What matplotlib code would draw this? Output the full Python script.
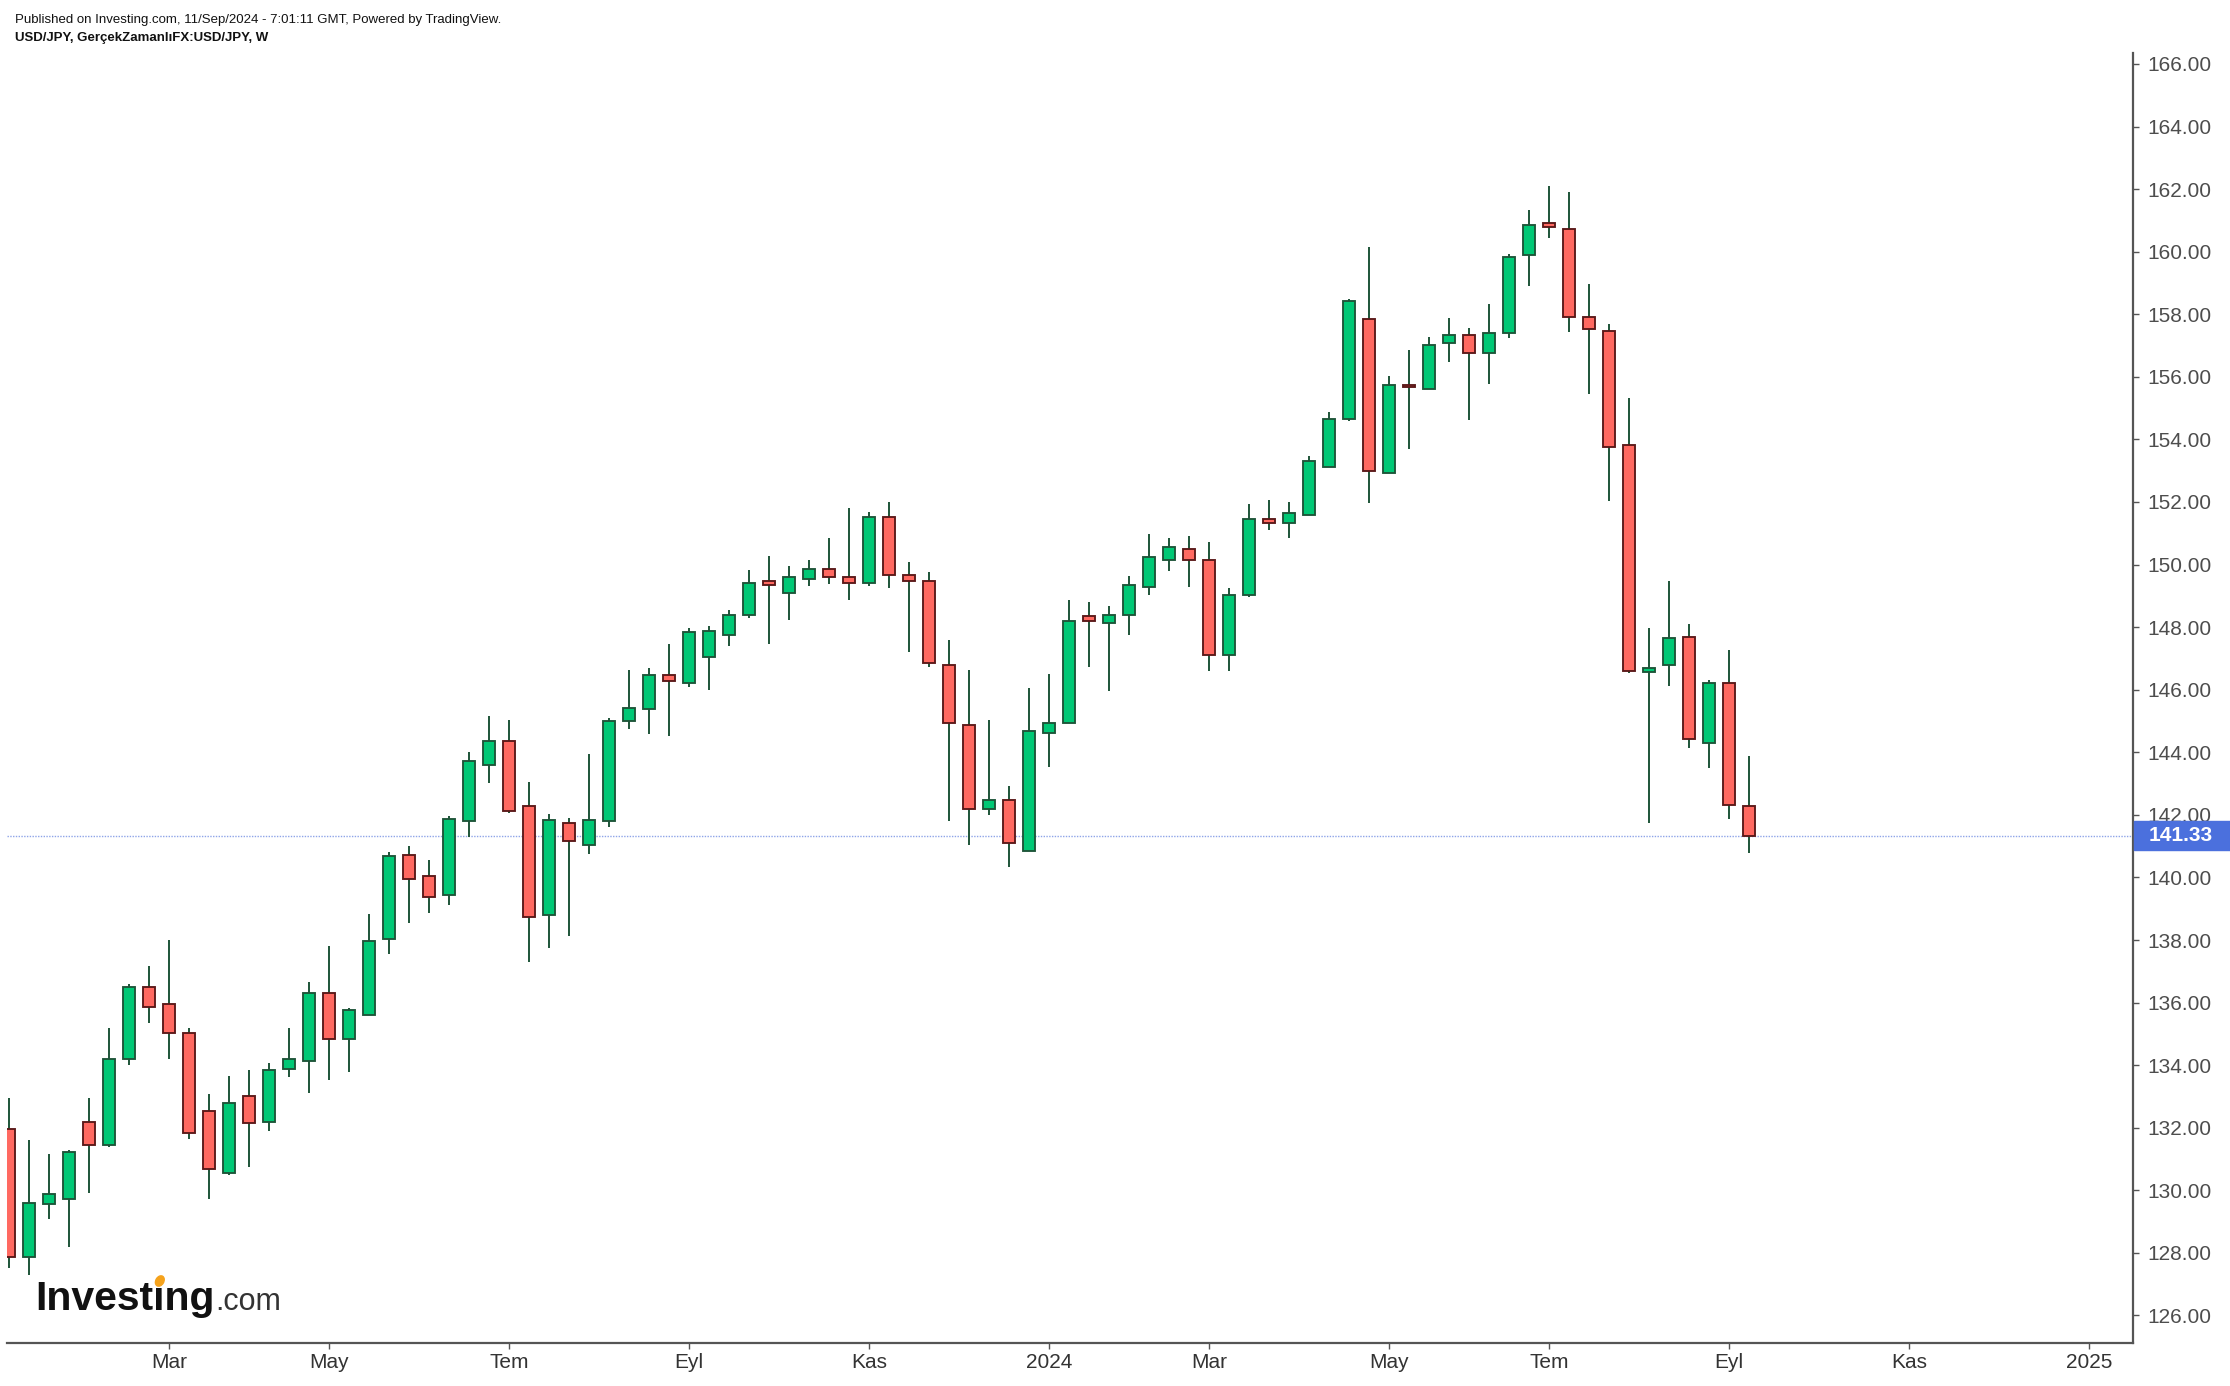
import numpy as np
import pandas as pd
import matplotlib
matplotlib.use('Agg')
import matplotlib.pyplot as plt
import matplotlib.dates as mdates
import matplotlib.transforms as mtransforms
from matplotlib.patches import Rectangle, Ellipse
from matplotlib.ticker import FormatStrFormatter

plt.rcParams['font.family'] = ['Liberation Sans', 'DejaVu Sans']

# weekly USD/JPY candles, week of 9 Jan 2023 to week of 9 Sep 2024
dates = pd.date_range('2023-01-09', periods=88, freq='W-MON')
opens = [131.97, 127.86, 129.55, 129.71, 132.17, 131.44, 134.19, 136.51, 135.94, 135.04,
         132.55, 130.55, 133.00, 132.17, 133.87, 134.13, 136.32, 134.83, 135.60, 138.03,
         140.73, 140.03, 139.43, 141.80, 143.59, 144.37, 142.27, 138.79, 141.75, 141.03,
         141.80, 144.99, 145.38, 146.48, 146.21, 147.04, 147.74, 148.38, 149.49, 149.08,
         149.53, 149.87, 149.61, 149.40, 151.53, 149.68, 149.49, 146.80, 144.88, 142.18,
         142.46, 140.86, 144.61, 144.93, 148.34, 148.13, 148.38, 149.28, 150.13, 150.51,
         150.13, 147.12, 149.02, 151.47, 151.32, 151.58, 153.11, 154.64, 157.86, 152.92,
         155.75, 155.60, 157.07, 157.35, 156.75, 157.39, 159.89, 160.93, 160.74, 157.92,
         157.48, 153.83, 146.56, 146.79, 147.70, 144.30, 146.23, 142.27]
highs = [132.95, 131.61, 131.16, 131.29, 132.95, 135.19, 136.60, 137.17, 138.00, 135.19,
         133.08, 133.66, 133.85, 134.08, 135.19, 136.66, 137.81, 135.83, 138.83, 140.82,
         141.01, 140.56, 141.97, 144.01, 145.16, 145.03, 143.05, 142.03, 141.90, 143.95,
         145.10, 146.63, 146.70, 147.46, 147.98, 148.04, 148.55, 149.83, 150.28, 149.96,
         150.15, 150.85, 151.81, 151.68, 152.00, 150.08, 149.76, 147.59, 146.63, 145.03,
         142.93, 146.06, 146.50, 148.87, 148.81, 148.68, 149.64, 150.98, 150.85, 150.92,
         150.72, 149.25, 151.94, 152.07, 152.00, 153.47, 154.88, 158.50, 160.14, 156.03,
         156.86, 157.27, 157.88, 157.56, 158.33, 159.93, 161.33, 162.10, 161.91, 158.97,
         157.69, 155.33, 147.97, 149.46, 148.11, 146.32, 147.26, 143.88]
lows = [127.52, 127.29, 129.08, 128.18, 129.91, 131.37, 134.00, 135.34, 134.19, 131.63,
        129.71, 130.49, 130.74, 131.89, 133.62, 133.10, 133.53, 133.79, 135.60, 137.56,
        138.54, 138.86, 139.11, 141.29, 143.01, 142.07, 137.30, 137.75, 138.13, 140.75,
        141.61, 144.74, 144.59, 144.52, 146.08, 145.99, 147.40, 148.29, 147.46, 148.23,
        149.32, 149.38, 148.87, 149.32, 149.25, 147.21, 146.72, 141.80, 141.03, 141.99,
        140.33, 140.86, 143.52, 144.93, 146.72, 145.95, 147.74, 149.02, 149.79, 149.28,
        146.59, 146.59, 148.96, 151.11, 150.85, 151.58, 153.11, 154.60, 151.96, 152.92,
        153.69, 155.60, 156.48, 154.62, 155.77, 157.24, 158.91, 160.44, 157.43, 155.45,
        152.02, 146.53, 141.74, 146.12, 144.15, 143.50, 141.86, 140.77]
closes = [127.86, 129.61, 129.87, 131.21, 131.44, 134.21, 136.51, 135.85, 135.02, 131.83,
          130.68, 132.80, 132.15, 133.83, 134.21, 136.32, 134.83, 135.75, 137.98, 140.67,
          139.94, 139.39, 141.88, 143.73, 144.37, 142.12, 138.73, 141.82, 141.16, 141.82,
          145.01, 145.40, 146.48, 146.27, 147.83, 147.89, 148.40, 149.42, 149.34, 149.61,
          149.87, 149.59, 149.40, 151.53, 149.66, 149.47, 146.85, 144.93, 142.18, 142.46,
          141.09, 144.69, 144.95, 148.21, 148.21, 148.40, 149.36, 150.25, 150.57, 150.13,
          147.12, 149.04, 151.47, 151.32, 151.66, 153.32, 154.66, 158.41, 152.98, 155.75,
          155.67, 157.03, 157.35, 156.75, 157.41, 159.84, 160.86, 160.78, 157.90, 157.52,
          153.75, 146.61, 146.68, 147.64, 144.41, 146.23, 142.33, 141.33]
last_price = 141.33

tick_dates = ['2023-03-06', '2023-05-01', '2023-07-03', '2023-09-04', '2023-11-06', '2024-01-08',
              '2024-03-04', '2024-05-06', '2024-07-01', '2024-09-02', '2024-11-04', '2025-01-06']
tick_labels = ['Mar', 'May', 'Tem', 'Eyl', 'Kas', '2024', 'Mar', 'May', 'Tem', 'Eyl', 'Kas', '2025']

fig = plt.figure(figsize=(22.3, 13.86), dpi=100)
ax = fig.add_axes([7 / 2230, 43 / 1386, 2126 / 2230, 1290 / 1386])

x = mdates.date2num(dates)
o = np.array(opens)
h = np.array(highs)
l = np.array(lows)
c = np.array(closes)
up = c >= o

wick_col = '#1d5438'
ax.vlines(x, l, h, color=wick_col, lw=1.4, zorder=2)
ax.bar(x[up], c[up] - o[up], bottom=o[up], width=3.95, color='#00c875',
       edgecolor='#1d5438', linewidth=1.35, zorder=3)
ax.bar(x[~up], o[~up] - c[~up], bottom=c[~up], width=3.95, color='#ff6961',
       edgecolor='#5a1818', linewidth=1.35, zorder=3)

ax.axhline(last_price, color='#8ea4e8', lw=1.0, ls=(0, (1, 1)), zorder=1)

ax.set_xlim(x[0] - 0.7, x[0] + 743.4)
ax.set_ylim(125.12, 166.35)

ax.set_xticks(mdates.date2num(pd.to_datetime(tick_dates)))
ax.set_xticklabels(tick_labels)
ax.set_yticks(np.arange(126, 167, 2))
ax.yaxis.set_major_formatter(FormatStrFormatter('%.2f'))
ax.yaxis.tick_right()

for s in ['left', 'top']:
    ax.spines[s].set_visible(False)
for s in ['right', 'bottom']:
    ax.spines[s].set_color('#555555')
    ax.spines[s].set_linewidth(1.6)

ax.tick_params(axis='y', length=4.5, width=1, color='#555555', labelcolor='#4d4d4d',
               labelsize=15, pad=5.5)
ax.tick_params(axis='x', length=4.5, width=1, color='#555555', labelcolor='#333333',
               labelsize=15, pad=3)

# last price label on the axis
trans = mtransforms.blended_transform_factory(ax.transAxes, ax.transData)
ax.add_patch(Rectangle((1.0005, last_price - 0.46), 0.05, 0.92, transform=trans,
                       color='#4b70dd', clip_on=False, zorder=6))
ax.text(1.0072, last_price, f'{last_price:.2f}', transform=trans, ha='left', va='center',
        color='white', fontsize=15, fontweight='bold', zorder=7, clip_on=False)

# header
fig.text(15 / 2230, 1 - 20 / 1386,
         'Published on Investing.com, 11/Sep/2024 - 7:01:11 GMT, Powered by TradingView.',
         fontsize=9.5, va='center', ha='left', color='#111111')
fig.text(15 / 2230, 1 - 38 / 1386, 'USD/JPY, GerçekZamanlıFX:USD/JPY, W',
         fontsize=9.5, va='center', ha='left', color='#111111', fontweight='bold')

# investing.com logo
fig.canvas.draw()
r = fig.canvas.get_renderer()
lx, ly = 35, 1386 - 1310
logo_props = dict(fontsize=29.5, fontweight='bold', color='#111111', va='baseline', ha='left')
t1 = fig.text(lx / 2230, ly / 1386, 'Investıng', **logo_props)
tmp = fig.text(0, 0, 'Invest', **logo_props)
w_pre = tmp.get_window_extent(r).width
tmp.set_text('ı')
w_i = tmp.get_window_extent(r).width
tmp.remove()
w_logo = t1.get_window_extent(r).width
fig.text((lx + w_logo + 1) / 2230, ly / 1386, '.com', fontsize=22, color='#333333',
         va='baseline', ha='left')
fig.add_artist(Ellipse((lx + w_pre + w_i / 2 + 1, ly + 29), 8, 11, angle=-30,
                       color='#f5a21b', transform=mtransforms.IdentityTransform()))

fig.savefig('out.png', dpi=100)
